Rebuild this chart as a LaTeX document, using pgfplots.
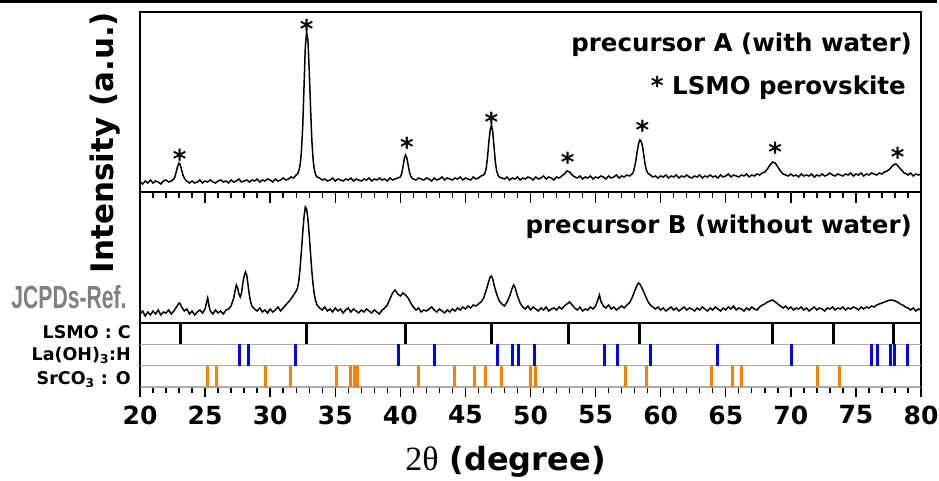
\documentclass[border=0pt]{standalone}
\usepackage{fontspec}
\setmainfont{DejaVu Sans}
\newfontfamily\serif{Liberation Serif}
\newfontfamily\arial{Liberation Sans}
\usepackage{pgfplots}
\pgfplotsset{compat=1.18}
\definecolor{orng}{RGB}{255,128,0}
\definecolor{blu}{RGB}{0,0,255}
\definecolor{sep}{RGB}{170,170,170}
\definecolor{jc}{RGB}{128,128,128}
\begin{document}
\begin{tikzpicture}
\useasboundingbox (0pt,0pt) rectangle (939pt,480pt);
\fill (0pt,477.3pt) rectangle (937pt,480pt);

% ---------- bottom: reference sticks ----------
\begin{axis}[at={(140pt,93pt)}, anchor=south west, scale only axis,
  width=781pt, height=64pt, xmin=20, xmax=80, ymin=0, ymax=3,
  xtick={20,25,...,80}, minor x tick num=4, xtick pos=left, tick align=outside,
  ytick=\empty, major tick length=10pt, minor tick length=6pt,
  tick style={black, line width=1.4pt},
  separate axis lines,
  x axis line style={sep, line width=1.5pt},
  y axis line style={black, line width=2.4pt},
  xticklabel style={font=\fontsize{25}{25}\selectfont\bfseries, yshift=-5pt},
  /pgf/number format/assume math mode=true,
  xlabel={{\serif\mdseries\fontsize{34}{34}\selectfont 2θ} (degree)},
  xlabel style={at={(rel axis cs:0.468,0)}, anchor=base, yshift=-83pt, font=\fontsize{32}{32}\selectfont\bfseries}]
\addplot[sep, line width=1.5pt, unbounded coords=jump] coordinates {(20,1)(80,1)(80,nan)(20,2)(80,2)};
\addplot[black, line width=2.8pt, unbounded coords=jump] coordinates {
(23.1,2)(23.1,3)(23.1,nan)(32.8,2)(32.8,3)(32.8,nan)(40.4,2)(40.4,3)(40.4,nan)
(47.0,2)(47.0,3)(47.0,nan)(52.9,2)(52.9,3)(52.9,nan)(58.4,2)(58.4,3)(58.4,nan)
(68.6,2)(68.6,3)(68.6,nan)(73.3,2)(73.3,3)(73.3,nan)(77.9,2)(77.9,3)};
\addplot[blu, line width=3pt, unbounded coords=jump] coordinates {
(27.63,1)(27.63,2)(27.63,nan)(28.32,1)(28.32,2)(28.32,nan)(31.96,1)(31.96,2)(31.96,nan)
(39.86,1)(39.86,2)(39.86,nan)(42.62,1)(42.62,2)(42.62,nan)(47.47,1)(47.47,2)(47.47,nan)
(48.64,1)(48.64,2)(48.64,nan)(49.08,1)(49.08,2)(49.08,nan)(50.28,1)(50.28,2)(50.28,nan)
(55.66,1)(55.66,2)(55.66,nan)(56.68,1)(56.68,2)(56.68,nan)(59.25,1)(59.25,2)(59.25,nan)
(64.39,1)(64.39,2)(64.39,nan)(70.08,1)(70.08,2)(70.08,nan)(76.18,1)(76.18,2)(76.18,nan)
(76.67,1)(76.67,2)(76.67,nan)(77.64,1)(77.64,2)(77.64,nan)(77.95,1)(77.95,2)(77.95,nan)
(78.93,1)(78.93,2)};
\addplot[orng, line width=3pt, unbounded coords=jump] coordinates {
(25.17,0)(25.17,1)(25.17,nan)(25.89,0)(25.89,1)(25.89,nan)(29.66,0)(29.66,1)(29.66,nan)
(31.53,0)(31.53,1)(31.53,nan)(35.12,0)(35.12,1)(35.12,nan)(36.19,0)(36.19,1)(36.19,nan)
(36.45,0)(36.45,1)(36.45,nan)(36.70,0)(36.70,1)(36.70,nan)(41.39,0)(41.39,1)(41.39,nan)
(44.13,0)(44.13,1)(44.13,nan)(45.67,0)(45.67,1)(45.67,nan)(46.57,0)(46.57,1)(46.57,nan)
(47.75,0)(47.75,1)(47.75,nan)(49.98,0)(49.98,1)(49.98,nan)(50.36,0)(50.36,1)(50.36,nan)
(57.28,0)(57.28,1)(57.28,nan)(58.94,0)(58.94,1)(58.94,nan)(63.94,0)(63.94,1)(63.94,nan)
(65.48,0)(65.48,1)(65.48,nan)(66.19,0)(66.19,1)(66.19,nan)(72.05,0)(72.05,1)(72.05,nan)
(73.75,0)(73.75,1)};
\end{axis}

% ---------- top: precursor A ----------
\begin{axis}[at={(140pt,288pt)}, anchor=south west, scale only axis,
  width=781pt, height=180pt, xmin=20, xmax=80, ymin=0, ymax=180,
  xtick=\empty, ytick=\empty, axis line style={line width=2.4pt}, clip=false,
  ylabel={Intensity (a.u.)},
  ylabel style={at={(rel axis cs:-0.0448,0.275)}, anchor=center, font=\fontsize{31}{31}\selectfont\bfseries}]
\addplot[black, line width=1.5pt] coordinates {
(20.0,10)(20.2,8)(20.4,11)(20.6,9)(20.8,12)(21.0,9)(21.2,11)(21.4,10)(21.6,8)(21.8,11)(22.0,12)(22.2,10)
(22.4,11)(22.5,12)(22.6,13)(22.7,16)(22.8,21)(22.9,26)(23.0,29)(23.1,27)(23.2,22)(23.3,17)(23.4,14)(23.5,12)(23.6,11)(23.8,9)
(24.0,11)(24.2,9)(24.4,10)(24.6,12)(24.8,9)(25.0,11)(25.2,10)(25.4,12)(25.6,10)(25.8,9)(26.0,11)(26.2,12)(26.4,10)(26.6,11)(26.8,9)
(27.0,12)(27.2,10)(27.4,11)(27.6,13)(27.8,10)(28.0,11)(28.2,12)(28.4,10)(28.6,12)(28.8,11)(29.0,13)(29.2,10)(29.4,12)(29.6,11)(29.8,13)
(30.0,12)(30.2,10)(30.4,13)(30.6,11)(30.8,12)(31.0,14)(31.2,12)(31.4,13)(31.6,15)(31.8,14)(32.0,17)(32.1,18)(32.2,21)(32.3,27)(32.4,40)
(32.5,65)(32.6,105)(32.7,145)(32.8,160)(32.9,152)(33.0,122)(33.1,85)(33.2,52)(33.3,32)(33.4,22)(33.5,17)(33.6,15)(33.8,14)(34.0,12)
(34.2,13)(34.4,11)(34.6,12)(34.8,14)(35.0,11)(35.2,13)(35.4,12)(35.6,11)(35.8,13)(36.0,12)(36.2,14)(36.4,11)(36.6,13)(36.8,12)(37.0,11)
(37.2,13)(37.4,12)(37.6,14)(37.8,11)(38.0,13)(38.2,12)(38.4,14)(38.6,12)(38.8,13)(39.0,11)(39.2,14)(39.4,12)(39.6,13)(39.8,14)(40.0,15)
(40.1,18)(40.2,25)(40.3,33)(40.4,37)(40.5,34)(40.6,27)(40.7,20)(40.8,16)(40.9,14)(41.0,13)(41.2,12)(41.4,14)(41.6,13)(41.8,12)(42.0,14)
(42.2,13)(42.4,11)(42.6,14)(42.8,12)(43.0,13)(43.2,15)(43.4,12)(43.6,14)(43.8,13)(44.0,12)(44.2,14)(44.4,13)(44.6,15)(44.8,12)(45.0,14)
(45.2,13)(45.4,12)(45.6,15)(45.8,13)(46.0,14)(46.2,16)(46.4,17)(46.5,19)(46.6,24)(46.7,35)(46.8,50)(46.9,62)(47.0,67)(47.1,60)(47.2,45)
(47.3,30)(47.4,21)(47.5,17)(47.6,15)(47.8,14)(48.0,13)(48.2,15)(48.4,12)(48.6,14)(48.8,13)(49.0,15)(49.2,12)(49.4,14)(49.6,13)(49.8,15)
(50.0,14)(50.2,12)(50.4,15)(50.6,13)(50.8,14)(51.0,16)(51.2,13)(51.4,15)(51.6,14)(51.8,12)(52.0,15)(52.2,14)(52.4,16)(52.6,18)(52.8,21)
(53.0,20)(53.2,17)(53.4,15)(53.6,14)(53.8,16)(54.0,13)(54.2,15)(54.4,14)(54.6,16)(54.8,13)(55.0,15)(55.2,14)(55.4,16)(55.6,15)(55.8,13)
(56.0,16)(56.2,14)(56.4,15)(56.6,17)(56.8,14)(57.0,16)(57.2,15)(57.4,17)(57.6,16)(57.8,18)(57.9,20)(58.0,25)(58.1,32)(58.2,41)(58.3,48)
(58.4,52)(58.5,51)(58.6,46)(58.7,37)(58.8,28)(58.9,22)(59.0,19)(59.2,17)(59.4,15)(59.6,16)(59.8,14)(60.0,16)(60.2,15)(60.4,17)(60.6,14)
(60.8,16)(61.0,15)(61.2,17)(61.4,14)(61.6,16)(61.8,15)(62.0,17)(62.2,15)(62.4,14)(62.6,16)(62.8,15)(63.0,17)(63.2,14)(63.4,16)(63.6,15)
(63.8,17)(64.0,15)(64.2,16)(64.4,14)(64.6,17)(64.8,15)(65.0,16)(65.2,18)(65.4,15)(65.6,17)(65.8,16)(66.0,15)(66.2,17)(66.4,16)(66.6,18)
(66.8,15)(67.0,17)(67.2,16)(67.4,18)(67.6,17)(67.8,19)(68.0,20)(68.2,23)(68.4,27)(68.6,30)(68.8,29)(69.0,25)(69.2,21)(69.4,18)(69.6,17)
(69.8,16)(70.0,18)(70.2,16)(70.4,17)(70.6,15)(70.8,18)(71.0,16)(71.2,17)(71.4,16)(71.6,18)(71.8,15)(72.0,17)(72.2,16)(72.4,18)(72.6,16)
(72.8,17)(73.0,19)(73.2,17)(73.4,16)(73.6,18)(73.8,17)(74.0,16)(74.2,18)(74.4,17)(74.6,19)(74.8,16)(75.0,18)(75.2,17)(75.4,19)(75.6,16)
(75.8,18)(76.0,17)(76.2,19)(76.4,18)(76.6,17)(76.8,19)(77.0,18)(77.2,20)(77.4,21)(77.6,23)(77.8,26)(78.0,28)(78.1,28)(78.3,25)(78.5,22)
(78.7,19)(78.9,18)(79.0,17)(79.2,19)(79.4,16)(79.6,18)(79.8,17)(80.0,18)};
\addplot[only marks, mark=text, text mark={*}, text mark as node=true,
  text mark style={font=\fontsize{26}{26}\selectfont\bfseries, inner sep=0pt, anchor=center, yshift=-4pt}]
  coordinates {(23.05,37)(32.8,167)(40.5,49)(47.0,74)(52.85,34)(58.6,66)(68.8,44)(78.2,39)};
\end{axis}

% ---------- middle: precursor B ----------
\begin{axis}[at={(140pt,157pt)}, anchor=south west, scale only axis,
  width=781pt, height=131pt, xmin=20, xmax=80, ymin=0, ymax=131,
  xtick={20,25,...,80}, minor x tick num=4, xtick pos=right, tick align=inside,
  xticklabels={}, ytick=\empty, major tick length=11pt, minor tick length=6pt,
  tick style={black, line width=1.4pt}, axis line style={line width=2.4pt}]
\addplot[black, line width=1.5pt] coordinates {
(20.0,9)(20.2,12)(20.4,7)(20.6,11)(20.8,8)(21.0,12)(21.2,9)(21.4,13)(21.6,8)(21.8,11)(22.0,10)(22.2,13)(22.4,9)(22.6,12)(22.8,16)
(22.9,18)(23.0,20)(23.1,19)(23.2,16)(23.4,12)(23.6,14)(23.8,9)(24.0,12)(24.2,8)(24.4,11)(24.6,13)(24.8,10)(25.0,14)(25.1,20)(25.2,25)
(25.3,17)(25.4,12)(25.6,9)(25.8,13)(26.0,10)(26.2,12)(26.4,9)(26.6,13)(26.8,14)(27.0,17)(27.2,25)(27.3,32)(27.4,38)(27.5,35)(27.6,29)
(27.7,26)(27.8,30)(27.9,40)(28.0,47)(28.1,51)(28.2,48)(28.3,38)(28.4,28)(28.5,21)(28.6,17)(28.8,14)(29.0,12)(29.2,15)(29.4,11)(29.6,13)
(29.8,10)(30.0,14)(30.2,11)(30.4,13)(30.6,16)(30.8,12)(31.0,15)(31.2,18)(31.4,21)(31.6,24)(31.8,28)(32.0,32)(32.1,35)(32.2,42)(32.3,55)
(32.4,72)(32.5,90)(32.6,106)(32.7,116)(32.8,114)(32.9,104)(33.0,88)(33.1,70)(33.2,52)(33.3,38)(33.4,28)(33.5,22)(33.6,18)(33.8,15)(34.0,13)
(34.2,16)(34.4,12)(34.6,14)(34.8,11)(35.0,15)(35.2,12)(35.4,14)(35.6,10)(35.8,13)(36.0,15)(36.2,11)(36.4,14)(36.6,12)(36.8,10)(37.0,13)
(37.2,11)(37.4,14)(37.6,12)(37.8,10)(38.0,13)(38.2,11)(38.4,9)(38.6,13)(38.8,15)(39.0,18)(39.2,24)(39.4,30)(39.6,33)(39.8,29)(40.0,27)
(40.2,30)(40.4,28)(40.6,25)(40.8,20)(41.0,16)(41.2,13)(41.4,15)(41.6,11)(41.8,13)(42.0,12)(42.2,14)(42.4,16)(42.6,13)(42.8,11)(43.0,14)
(43.2,12)(43.4,10)(43.6,13)(43.8,11)(44.0,14)(44.2,12)(44.4,15)(44.6,13)(44.8,16)(45.0,14)(45.2,17)(45.4,15)(45.6,18)(45.8,17)(46.0,19)
(46.2,21)(46.4,25)(46.6,33)(46.8,42)(46.9,46)(47.0,47)(47.1,44)(47.2,38)(47.4,29)(47.6,22)(47.8,19)(48.0,17)(48.2,21)(48.4,27)(48.6,35)
(48.7,38)(48.8,36)(49.0,27)(49.2,20)(49.4,16)(49.6,14)(49.8,17)(50.0,13)(50.2,16)(50.4,14)(50.6,12)(50.8,15)(51.0,13)(51.2,16)(51.4,12)
(51.6,14)(51.8,15)(52.0,13)(52.2,16)(52.4,14)(52.6,17)(52.8,19)(53.0,21)(53.2,18)(53.4,15)(53.6,13)(53.8,16)(54.0,12)(54.2,14)(54.4,13)
(54.6,16)(54.8,14)(55.0,17)(55.2,24)(55.3,28)(55.4,22)(55.6,17)(55.8,15)(56.0,18)(56.2,14)(56.4,16)(56.6,13)(56.8,15)(57.0,17)(57.2,15)
(57.4,18)(57.6,20)(57.8,25)(58.0,32)(58.2,38)(58.3,40)(58.4,39)(58.6,34)(58.8,28)(59.0,22)(59.2,18)(59.4,16)(59.6,14)(59.8,16)(60.0,13)
(60.2,15)(60.4,12)(60.6,14)(60.8,16)(61.0,13)(61.2,15)(61.4,12)(61.6,14)(61.8,16)(62.0,13)(62.2,15)(62.4,14)(62.6,12)(62.8,15)(63.0,13)
(63.2,16)(63.4,14)(63.6,12)(63.8,15)(64.0,13)(64.2,16)(64.4,14)(64.6,12)(64.8,15)(65.0,13)(65.2,16)(65.4,14)(65.6,17)(65.8,13)(66.0,15)
(66.2,14)(66.4,12)(66.6,15)(66.8,13)(67.0,16)(67.2,14)(67.4,13)(67.6,16)(67.8,18)(68.0,19)(68.2,21)(68.4,22)(68.6,23)(68.8,21)(69.0,19)
(69.2,17)(69.4,15)(69.6,17)(69.8,14)(70.0,16)(70.2,13)(70.4,15)(70.6,14)(70.8,16)(71.0,13)(71.2,15)(71.4,12)(71.6,14)(71.8,16)(72.0,13)
(72.2,15)(72.4,14)(72.6,12)(72.8,15)(73.0,14)(73.2,16)(73.4,13)(73.6,15)(73.8,14)(74.0,16)(74.2,13)(74.4,15)(74.6,14)(74.8,16)(75.0,15)
(75.2,13)(75.4,16)(75.6,14)(75.8,16)(76.0,15)(76.2,17)(76.4,16)(76.6,18)(76.8,19)(77.0,20)(77.2,21)(77.4,22)(77.6,23)(77.8,23)(78.0,22)
(78.2,21)(78.4,19)(78.6,18)(78.8,16)(79.0,15)(79.2,13)(79.4,15)(79.6,12)(79.8,14)(80.0,13)};
\end{axis}

% ---------- texts ----------
\node[anchor=east, inner sep=0pt, font=\fontsize{24.5}{24.5}\selectfont\bfseries] at (912pt,435pt) {precursor A (with water)};
\node[anchor=east, inner sep=0pt, font=\fontsize{24.5}{24.5}\selectfont\bfseries] at (906pt,392pt) {* LSMO perovskite};
\node[anchor=east, inner sep=0pt, font=\fontsize{24.5}{24.5}\selectfont\bfseries] at (912pt,253pt) {precursor B (without water)};
\node[anchor=base east, inner sep=0pt, font=\fontsize{17.5}{17.5}\selectfont\bfseries] at (131pt,142pt) {LSMO : C};
\node[anchor=base east, inner sep=0pt, font=\fontsize{17.5}{17.5}\selectfont\bfseries] at (131pt,120pt) {La(OH)\textsubscript{3}:H};
\node[anchor=base east, inner sep=0pt, font=\fontsize{17.5}{17.5}\selectfont\bfseries] at (131pt,96pt) {SrCO\textsubscript{3} : O};
\node[inner sep=0pt, text=jc, font=\arial\fontsize{32}{32}\selectfont\bfseries] at (69pt,183pt) {\scalebox{0.66}[1]{JCPDs-Ref.}};
\end{tikzpicture}
\end{document}
